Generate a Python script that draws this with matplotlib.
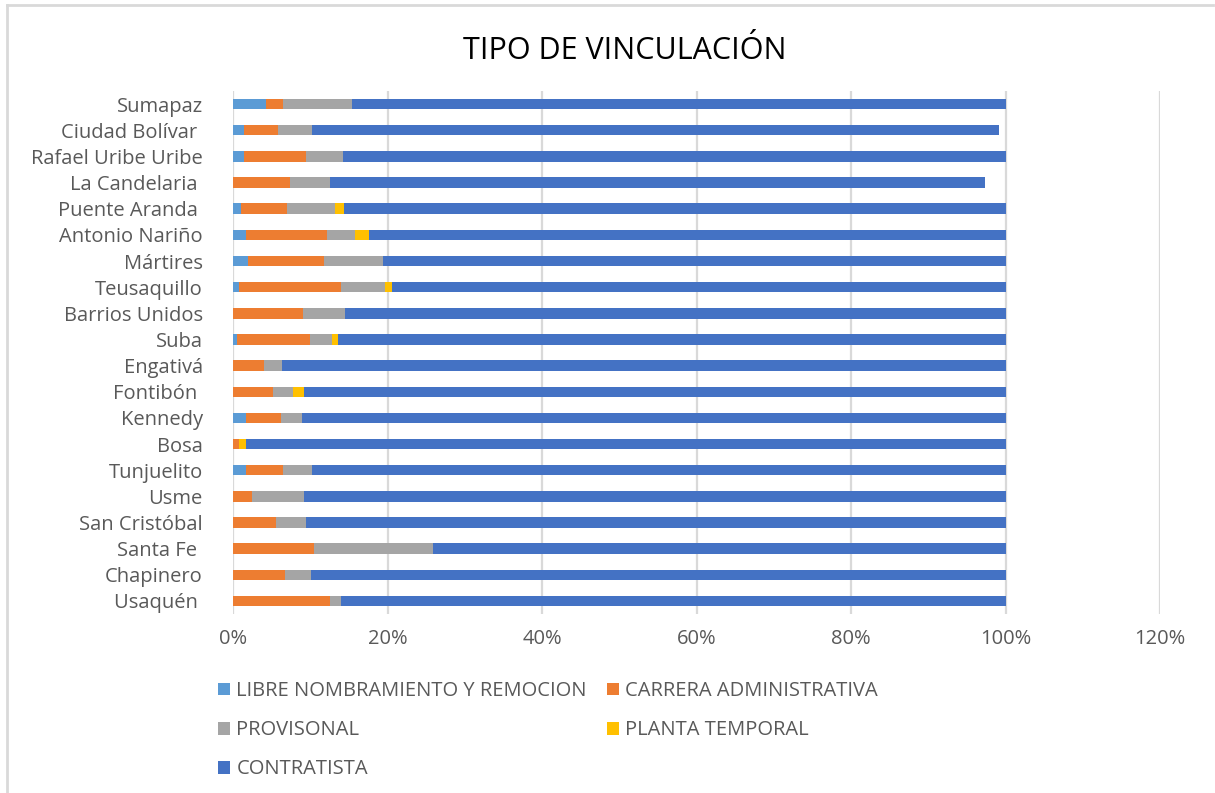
import matplotlib
matplotlib.use('Agg')
import matplotlib.pyplot as plt
import matplotlib.ticker as mtick
from matplotlib.patches import Patch
from matplotlib.lines import Line2D
import numpy as np

plt.rcParams['font.family'] = ['Open Sans', 'DejaVu Sans']

#%% data (shares in %)
localidades = ['Usaquén ', 'Chapinero', 'Santa Fe ', 'San Cristóbal', 'Usme', 'Tunjuelito',
               'Bosa', 'Kennedy', 'Fontibón ', 'Engativá', 'Suba', 'Barrios Unidos',
               'Teusaquillo', 'Mártires', 'Antonio Nariño', 'Puente Aranda ',
               'La Candelaria ', 'Rafael Uribe Uribe', 'Ciudad Bolívar ', 'Sumapaz']

libre_nombramiento = [0.0, 0.0, 0.0, 0.0, 0.0, 1.7, 0.0, 1.7, 0.0, 0.0,
                      0.5, 0.0, 0.7, 1.9, 1.7, 1.0, 0.0, 1.4, 1.4, 4.3]
carrera_admin = [12.5, 6.7, 10.4, 5.5, 2.4, 4.8, 0.7, 4.5, 5.2, 4.0,
                 9.4, 9.0, 13.3, 9.8, 10.4, 6.0, 7.3, 8.0, 4.4, 2.2]
provisional = [1.5, 3.4, 15.4, 3.9, 6.7, 3.7, 0.0, 2.7, 2.5, 2.3,
               2.9, 5.5, 5.6, 7.7, 3.6, 6.2, 5.2, 4.8, 4.4, 8.9]
planta_temporal = [0.0, 0.0, 0.0, 0.0, 0.0, 0.0, 1.0, 0.0, 1.4, 0.0,
                   0.7, 0.0, 1.0, 0.0, 1.9, 1.1, 0.0, 0.0, 0.0, 0.0]
contratista = [86.0, 89.9, 74.2, 90.6, 90.9, 89.8, 98.3, 91.1, 90.9, 93.7,
               86.5, 85.5, 79.4, 80.6, 82.4, 85.7, 84.9, 85.8, 88.9, 84.6]

series_names = ['LIBRE NOMBRAMIENTO Y REMOCION', 'CARRERA ADMINISTRATIVA',
                'PROVISONAL', 'PLANTA TEMPORAL', 'CONTRATISTA']
series_values = [libre_nombramiento, carrera_admin, provisional, planta_temporal, contratista]
colors = ['#5B9BD5', '#ED7D31', '#A5A5A5', '#FFC000', '#4472C4']

#%% figure
fig = plt.figure(figsize=(12.15, 7.93), dpi=100)
ax = fig.add_axes([0.192, 0.2257, 0.7627, 0.6595])

# chart frame (light grey, like the excel chart area)
fig.add_artist(Line2D([7/1215, 7/1215], [0, 1 - 5/793], color='#d9d9d9', lw=2))
fig.add_artist(Line2D([7/1215, 1213/1215], [1 - 5/793, 1 - 5/793], color='#d9d9d9', lw=2))

y = np.arange(len(localidades))
left = np.zeros(len(localidades))
for name, vals, col in zip(series_names, series_values, colors):
    vals = np.array(vals) / 100.
    ax.barh(y, vals, left=left, height=0.4, color=col, label=name, zorder=3)
    left = left + vals

ax.set_xlim(0, 1.2)
ax.set_ylim(-0.5, len(localidades) - 0.5)
ax.xaxis.set_major_locator(mtick.MultipleLocator(0.2))
ax.xaxis.set_major_formatter(mtick.PercentFormatter(xmax=1, decimals=0))
ax.grid(axis='x', color='#d9d9d9', lw=1.6, zorder=0)
for s in ax.spines.values():
    s.set_visible(False)

ax.set_yticks(y)
ax.set_yticklabels(localidades)
ax.tick_params(axis='both', length=0, labelsize=14.5, labelcolor='#595959')
ax.tick_params(axis='y', pad=22)
ax.tick_params(axis='x', pad=11)

fig.text(625/1215, 1 - 51/793, 'TIPO DE VINCULACIÓN', ha='center', va='center',
         fontsize=22, color='#000000')

# legend filled row by row like excel
order = [0, 2, 4, 1, 3]
handles = [Patch(facecolor=colors[i], label=series_names[i]) for i in order]
leg = fig.legend(handles=handles, loc='upper left', bbox_to_anchor=(200/1215, 1 - 663/793),
                 ncol=2, frameon=False, fontsize=14.5, labelcolor='#595959',
                 handlelength=0.6, handleheight=0.6, handletextpad=0.3,
                 columnspacing=1.0, labelspacing=0.95)

fig.savefig('out.png', dpi=100)
